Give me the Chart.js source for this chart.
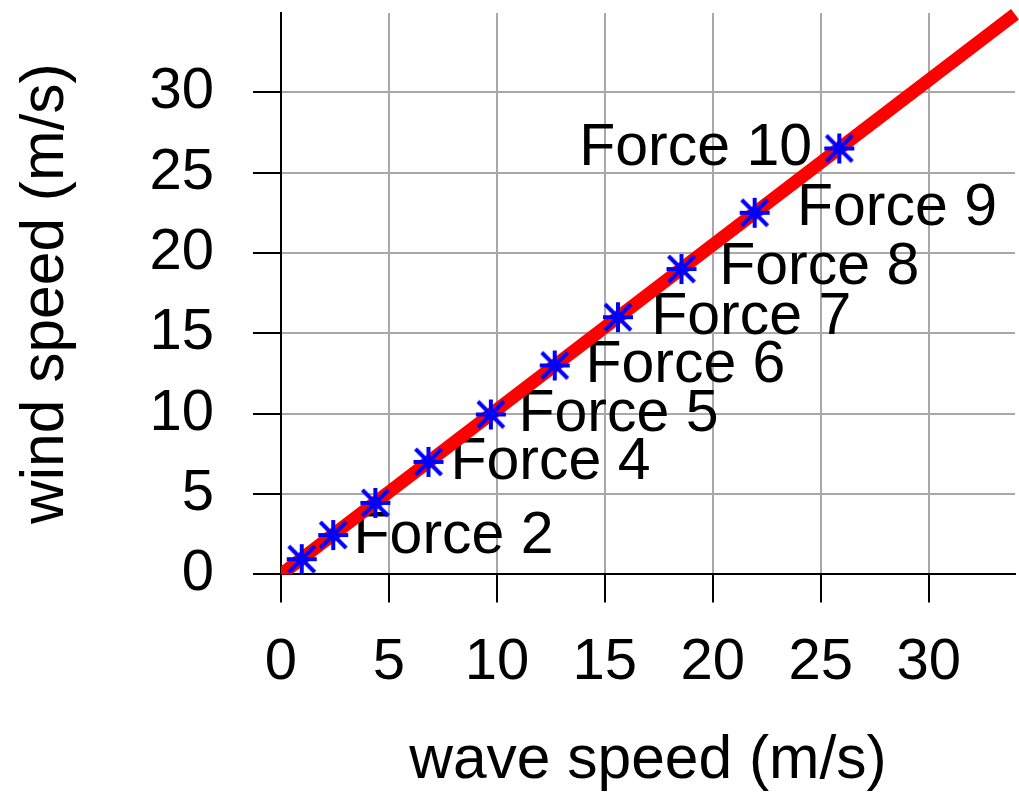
<!DOCTYPE html>
<html>
<head>
<meta charset="utf-8">
<script src="https://cdn.jsdelivr.net/npm/chart.js@4/dist/chart.umd.min.js"></script>
<style>
  html, body { margin: 0; padding: 0; background: #fff; }
  #wrap { width: 1019px; height: 796px; }
</style>
</head>
<body>
<div id="wrap"><canvas id="chart" width="1019" height="796"></canvas></div>
<script>
// Beaufort force points
var forceNames = ['Force 1', 'Force 2', 'Force 3', 'Force 4', 'Force 5', 'Force 6', 'Force 7', 'Force 8', 'Force 9', 'Force 10'];
var waveSpeed = [0.96, 2.42, 4.37, 6.83, 9.72, 12.68, 15.61, 18.55, 21.94, 25.86];
var windSpeed = [0.95, 2.45, 4.45, 7.0, 9.95, 13.0, 16.0, 19.0, 22.5, 26.5];

// the red fit line, end points
var lineX = [0, 34];
var lineY = [0, 34.85];

// text labels placed beside the points (data coords)
var labelText = ['Force 2', 'Force 4', 'Force 5', 'Force 6', 'Force 7', 'Force 8', 'Force 9', 'Force 10'];
var labelX = [3.36, 7.85, 11.0, 14.1, 17.15, 20.3, 23.9, 24.6];
var labelY = [2.33, 6.94, 9.92, 12.97, 15.96, 19.07, 22.76, 26.5];
var labelAlign = ['left', 'left', 'left', 'left', 'left', 'left', 'left', 'right'];

// tick values
var xTicks = [0, 5, 10, 15, 20, 25, 30];
var yTicks = [0, 5, 10, 15, 20, 25, 30];

var FONT = 'Liberation Sans, Arial, Helvetica, sans-serif';

// gnuplot-like star marker (+ and x overlaid)
function makeStar() {
    var c = document.createElement('canvas');
    c.width = 36; c.height = 36;
    var g = c.getContext('2d');
    g.strokeStyle = '#0000ff';
    g.lineWidth = 4;
    g.beginPath();
    g.moveTo(18, 3); g.lineTo(18, 33);
    g.moveTo(3, 18); g.lineTo(33, 18);
    g.moveTo(5, 5); g.lineTo(31, 31);
    g.moveTo(31, 5); g.lineTo(5, 31);
    g.stroke();
    return c;
}

var pointData = waveSpeed.map((v, i) => ({ x: v, y: windSpeed[i] }));
var lineData = lineX.map((v, i) => ({ x: v, y: lineY[i] }));

// labels are drawn before the datasets, like gnuplot does
const forceLabels = {
    id: 'forceLabels',
    beforeDatasetsDraw: (chart) => {
        const ctx = chart.ctx;
        const xs = chart.scales.x, ys = chart.scales.y;
        ctx.save();
        ctx.font = '59px ' + FONT;
        ctx.fillStyle = '#000';
        ctx.textBaseline = 'middle';
        labelText.forEach((t, i) => {
            ctx.textAlign = labelAlign[i];
            ctx.fillText(t, xs.getPixelForValue(labelX[i]), ys.getPixelForValue(labelY[i]));
        });
        ctx.restore();
    }
};

var ctx = document.getElementById('chart').getContext('2d');
var chart = new Chart(ctx, {
    type: 'scatter',
    data: {
        datasets: [
            {
                label: 'forces',
                data: pointData,
                pointStyle: makeStar(),
                pointRadius: 15,
                showLine: false
            },
            {
                label: 'fit',
                type: 'line',
                data: lineData,
                borderColor: '#ff0000',
                borderWidth: 13,
                pointRadius: 0,
                fill: false,
                clip: { left: 0, bottom: 0, top: 8, right: 8 }
            }
        ]
    },
    options: {
        responsive: false,
        animation: false,
        devicePixelRatio: 1,
        layout: { autoPadding: false, padding: { left: 0, right: 4, top: 13, bottom: 0 } },
        plugins: {
            legend: { display: false },
            tooltip: { enabled: false }
        },
        scales: {
            x: {
                type: 'linear',
                min: 0,
                max: 34,
                afterBuildTicks: (s) => { s.ticks = xTicks.map(v => ({ value: v })); },
                afterFit: (s) => {
                    s.height = 221.6;
                    s.paddingLeft = 0; s.paddingRight = 0;
                    s.paddingTop = 0; s.paddingBottom = 0;
                },
                grid: { color: '#a8a8a8', lineWidth: 2, tickColor: '#000', tickLength: 28, tickWidth: 2 },
                border: { color: '#000', width: 2 },
                ticks: { color: '#000', padding: 26, maxRotation: 0, font: { family: FONT, size: 58 } },
                title: { display: true, text: 'wave speed (m/s)', color: '#000',
                         font: { family: FONT, size: 60.5, lineHeight: 1 }, padding: { top: 0, bottom: 4 } }
            },
            y: {
                type: 'linear',
                min: 0,
                max: 34.93,
                afterBuildTicks: (s) => { s.ticks = yTicks.map(v => ({ value: v })); },
                afterFit: (s) => {
                    s.width = 281;
                    s.paddingLeft = 0; s.paddingRight = 0;
                    s.paddingTop = 0; s.paddingBottom = 0;
                },
                grid: { color: '#a8a8a8', lineWidth: 2, tickColor: '#000', tickLength: 28, tickWidth: 2 },
                border: { color: '#000', width: 2 },
                ticks: { color: '#000', padding: 39, font: { family: FONT, size: 58 } },
                title: { display: true, text: 'wind speed (m/s)', color: '#000',
                         font: { family: FONT, size: 60.5, lineHeight: 1 }, padding: { top: 16, bottom: 0 } }
            }
        }
    },
    plugins: [forceLabels]
});
</script>
</body>
</html>
